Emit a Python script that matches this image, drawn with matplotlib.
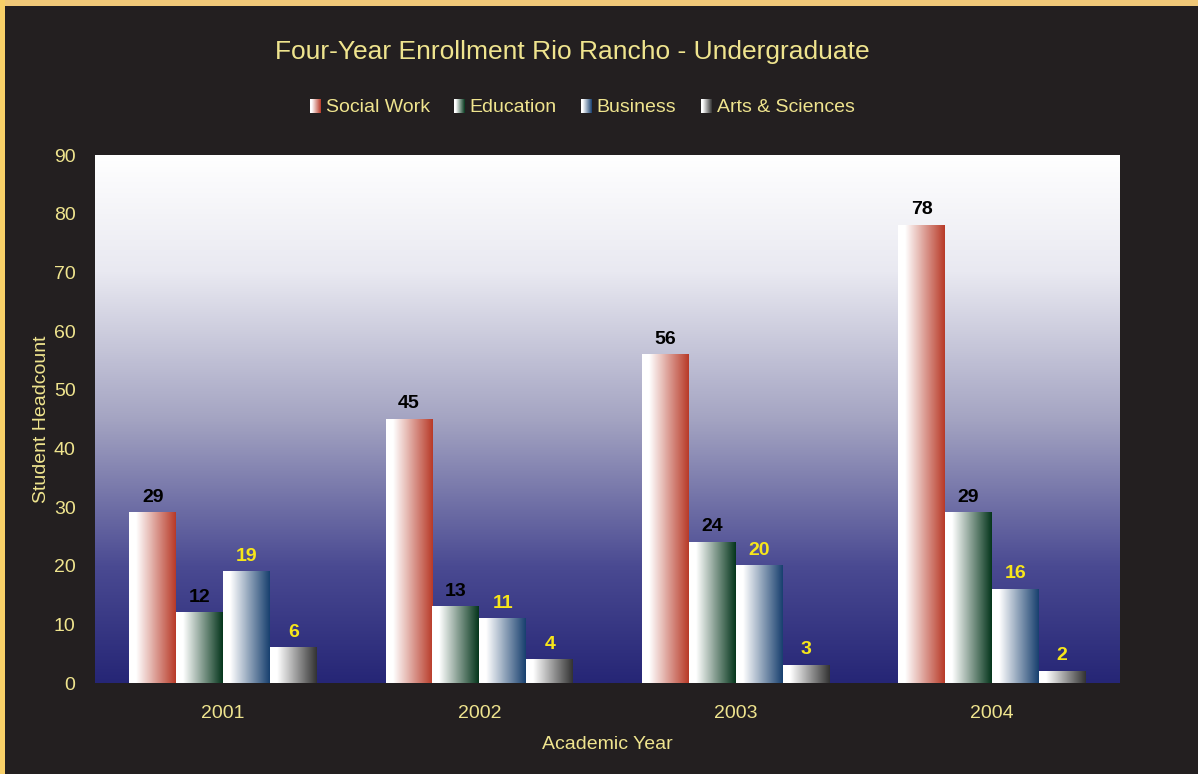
import numpy as np
import matplotlib.pyplot as plt
from matplotlib.colors import LinearSegmentedColormap, to_rgb
from matplotlib.patches import Rectangle

plt.rcParams['font.family'] = ['Liberation Sans', 'DejaVu Sans']

# Enrollment data
years = ['2001', '2002', '2003', '2004']
series = ['Social Work', 'Education', 'Business', 'Arts & Sciences']
social_work = [29, 45, 56, 78]
education = [12, 13, 24, 29]
business = [19, 11, 20, 16]
arts_sciences = [6, 4, 3, 2]
values = [social_work, education, business, arts_sciences]

bar_colors = ['#b83a28', '#05361c', '#18406f', '#333333']
label_colors = ['black', 'black', '#f7e61a', '#f7e61a']

bg = '#231f20'
txt = '#efe48e'

fig = plt.figure(figsize=(11.98, 7.74), dpi=100, facecolor=bg)
ax = fig.add_axes([95 / 1198, 91 / 774, 1025 / 1198, 528 / 774])
ax.set_facecolor(bg)

ymax = 90
# plot area background: white on top fading to navy
bg_cmap = LinearSegmentedColormap.from_list(
    'plotbg', [(0.0, '#262676'), (0.22, '#4a4a92'), (0.5, '#a4a4c2'),
               (0.78, '#e9e9f1'), (1.0, '#ffffff')])
grad = np.linspace(0, 1, 256).reshape(-1, 1)
ax.imshow(grad, cmap=bg_cmap, origin='lower', aspect='auto',
          extent=[-0.5, 3.5, 0, ymax], zorder=0)

# bars drawn as horizontal gradients, white -> series colour
width = 0.183
x = np.arange(len(years))
hgrad = np.linspace(0, 1, 128).reshape(1, -1)
for i, (name, vals, col, lcol) in enumerate(zip(series, values, bar_colors, label_colors)):
    cmap = LinearSegmentedColormap.from_list(name, [(0, 'white'), (0.15, 'white'), (1, col)])
    for xi, v in zip(x, vals):
        left = xi + (i - 1.5) * width - width / 2
        ax.imshow(hgrad, cmap=cmap, aspect='auto', origin='lower',
                  extent=[left, left + width, 0, v], zorder=2)
        ax.annotate(str(v), (left + width / 2, v), xytext=(0, 5), textcoords='offset points',
                    ha='center', va='bottom', fontsize=14, fontweight='bold', color=lcol, zorder=3)

ax.set_xlim(-0.5, 3.5)
ax.set_ylim(0, ymax)
ax.set_yticks(range(0, 91, 10))
ax.set_xticks(x)
ax.set_xticklabels(years)
ax.tick_params(length=0, labelsize=14, colors=txt)
ax.tick_params(axis='y', pad=14)
ax.tick_params(axis='x', pad=16)
for s in ax.spines.values():
    s.set_visible(False)
ax.set_ylabel('Student Headcount', fontsize=14, color=txt, labelpad=3)
ax.set_xlabel('Academic Year', fontsize=14, color=txt, labelpad=10)

fig.text(0.5 * (273 + 872) / 1198, 1 - 52 / 774, 'Four-Year Enrollment Rio Rancho - Undergraduate',
         ha='center', va='center', fontsize=19, color=txt)

# legend with small gradient swatches, laid out by measured text widths
fig.canvas.draw()
renderer = fig.canvas.get_renderer()
sq_w, sq_h, gap_in, gap_out = 11, 14, 5, 24
items = []
for name in series:
    t = fig.text(0, 0, name, fontsize=14, color=txt, va='center', ha='left')
    items.append((t, t.get_window_extent(renderer).width))
total = sum(sq_w + gap_in + w for _, w in items) + gap_out * (len(items) - 1)
xpos = 582 - total / 2
ypix = 774 - 107
W, H = 1198, 774
for (t, w), col in zip(items, bar_colors):
    sax = fig.add_axes([xpos / W, (ypix - sq_h / 2 + 1) / H, sq_w / W, sq_h / H])
    cmap = LinearSegmentedColormap.from_list('sw', [(0, 'white'), (0.15, 'white'), (1, col)])
    sax.imshow(hgrad, cmap=cmap, aspect='auto')
    sax.axis('off')
    t.set_position(((xpos + sq_w + gap_in) / W, ypix / H))
    xpos += sq_w + gap_in + w + gap_out

# gold frame along top and left edges
fig.patches.append(Rectangle((0, 1 - 6 / H), 1, 6 / H, transform=fig.transFigure,
                             facecolor='#f0c878', edgecolor='none'))
fig.patches.append(Rectangle((0, 0), 5 / W, 1, transform=fig.transFigure,
                             facecolor='#f8d068', edgecolor='none'))

fig.savefig('out.png', dpi=100, facecolor=bg)
